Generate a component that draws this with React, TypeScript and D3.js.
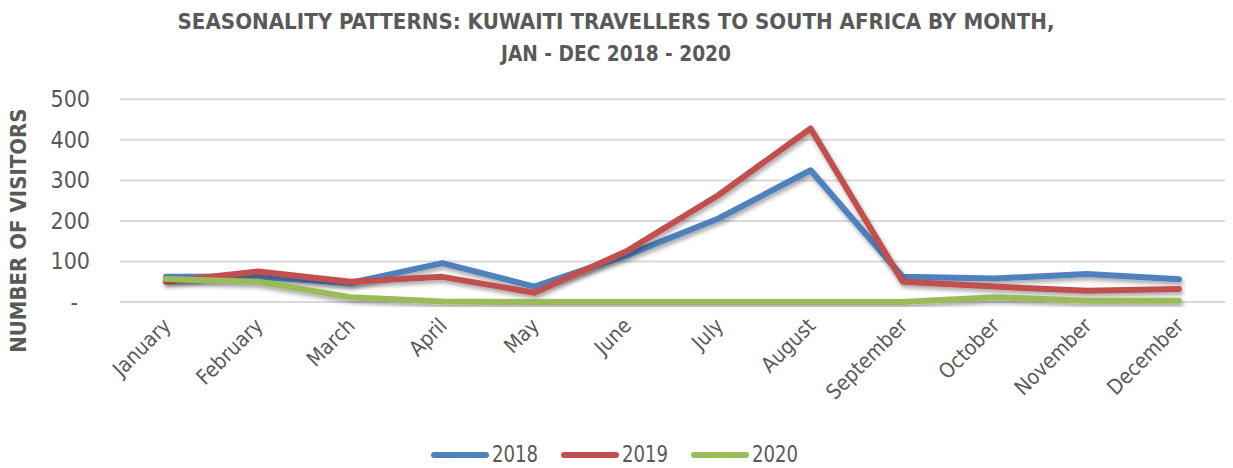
import React from "react";
import * as d3 from "d3";

const months = ["January","February","March","April","May","June","July","August","September","October","November","December"];
const v2018 = [62, 62, 47, 96, 38, 115, 206, 325, 62, 58, 69, 56];
const v2019 = [50, 75, 50, 62, 23, 125, 264, 428, 50, 38, 28, 32];
const v2020 = [57, 50, 12, 1, 0, 0, 0, 0, 0, 12, 3, 3];
const yTicks = [0, 100, 200, 300, 400, 500];
const seriesNames = ["2018", "2019", "2020"];
const colors = ["#4F81BD", "#C0504D", "#9BBB59"];
const titleLines = ["SEASONALITY PATTERNS: KUWAITI TRAVELLERS TO SOUTH AFRICA BY MONTH,", "JAN - DEC 2018 - 2020"];
const yTitle = "NUMBER OF VISITORS";

const W = 1233, H = 468;
const left = 120, right = 1225, top = 99.3, bottom = 302;
const FONT = "'Liberation Sans Narrow', 'Arial Narrow', 'DejaVu Sans Condensed', sans-serif";
const TXT = "#595959";

export default function App() {
  const x = d3.scaleBand<string>().domain(months).range([left, right]);
  const y = d3.scaleLinear().domain([0, 500]).range([bottom, top]);
  const line = d3.line<number>().x((_, i) => (x(months[i]) as number) + x.bandwidth() / 2).y(d => y(d));
  const series = [v2018, v2019, v2020];
  const titleLens = [877, 230];
  return (
    <svg width={W} height={H} style={{ position: "absolute", left: 0, top: 0, background: "#fff" }}>
      <defs>
        <filter id="sh" x="-10%" y="-10%" width="120%" height="130%">
          <feDropShadow dx="1.5" dy="3" stdDeviation="2" floodColor="#000" floodOpacity="0.35" />
        </filter>
      </defs>
      {titleLines.map((t, i) => (
        <text key={i} x={616} y={29 + i * 32} textAnchor="middle" fontFamily={FONT} fontWeight="bold" fontSize={22} fill={TXT}
          textLength={titleLens[i]} lengthAdjust="spacingAndGlyphs">{t}</text>
      ))}
      <text transform={`translate(26,${(top + bottom) / 2 + 30}) rotate(-90)`} textAnchor="middle" fontFamily={FONT} fontWeight="bold" fontSize={22} fill={TXT}>{yTitle}</text>
      {yTicks.map(t => (
        <g key={t}>
          <line x1={left} x2={right} y1={y(t)} y2={y(t)} stroke="#d9d9d9" strokeWidth={2} />
          <text x={t === 0 ? 78 : 90} y={y(t) + 8} textAnchor="end" fontFamily={FONT} fontSize={23} fill={TXT}>{t === 0 ? "-" : t}</text>
        </g>
      ))}
      {months.map(m => {
        const cx = (x(m) as number) + x.bandwidth() / 2;
        return (
          <text key={m} transform={`translate(${cx + 6},${327}) rotate(-45)`} textAnchor="end" fontFamily={FONT} fontSize={21} fill={TXT}>{m}</text>
        );
      })}
      {series.map((s, i) => (
        <path key={i} d={line(s) as string} fill="none" stroke={colors[i]} strokeWidth={6} strokeLinecap="round" strokeLinejoin="round" filter="url(#sh)" />
      ))}
      {seriesNames.map((n, i) => {
        const lx = 432 + i * 130;
        return (
          <g key={n}>
            <line x1={lx + 2} x2={lx + 54} y1={455} y2={455} stroke={colors[i]} strokeWidth={6} strokeLinecap="round" />
            <text x={lx + 60} y={462} fontFamily={FONT} fontSize={23} fill={TXT} textLength={46} lengthAdjust="spacingAndGlyphs">{n}</text>
          </g>
        );
      })}
    </svg>
  );
}
